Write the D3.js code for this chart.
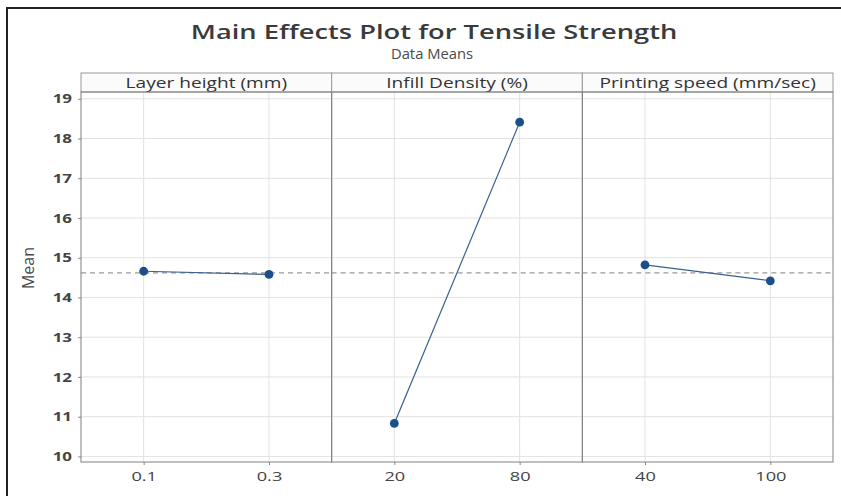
<!DOCTYPE html>
<html>
<head>
<meta charset="utf-8">
<script src="https://cdn.jsdelivr.net/npm/d3@7"></script>
<style>
  html, body { margin: 0; padding: 0; background: #fff; }
  svg { display: block; }
  text { font-family: "Open Sans", "Noto Sans", sans-serif; }
</style>
</head>
<body>
<svg id="chart" width="841" height="496"></svg>
<script>
// Factors and their levels
const factors = ["Layer height (mm)", "Infill Density (%)", "Printing speed (mm/sec)"];
const levels = [["0.1", "0.3"], ["20", "80"], ["40", "100"]];
// Mean tensile strength at each level
const means = [[14.66, 14.58], [10.83, 18.41], [14.82, 14.42]];
const grandMean = 14.62;
const yTicks = [10, 11, 12, 13, 14, 15, 16, 17, 18, 19];

(function () {
  const svg = d3.select("#chart");

  // widen text horizontally around its anchor point
  function widen(sel, sx) {
    sel.each(function () {
      const t = d3.select(this);
      const x = +t.attr("x") || 0, y = +t.attr("y") || 0;
      t.attr("x", 0).attr("y", 0)
        .attr("transform", `translate(${x},${y}) scale(${sx},1)`);
    });
  }

  // outer frame
  svg.append("rect")
    .attr("x", 7).attr("y", 8).attr("width", 860).attr("height", 520)
    .attr("fill", "none").attr("stroke", "#222").attr("stroke-width", 2);

  // titles
  const title = svg.append("text")
    .attr("x", 434).attr("y", 39)
    .attr("text-anchor", "middle")
    .attr("font-size", 19.5).attr("font-weight", 600).attr("fill", "#3a3a3a")
    .text("Main Effects Plot for Tensile Strength");
  widen(title, 1.4);
  const sub = svg.append("text")
    .attr("x", 432).attr("y", 59)
    .attr("text-anchor", "middle")
    .attr("font-size", 14.5).attr("fill", "#4a4a4a")
    .text("Data Means");
  widen(sub, 1.02);

  const plotLeft = 81, plotRight = 833, headTop = 73, plotTop = 92, plotBottom = 462;
  const panelW = (plotRight - plotLeft) / factors.length;

  const y = d3.scaleLinear().domain([9.86, 19.17]).range([plotBottom, plotTop]);

  // y axis label
  svg.append("text")
    .attr("transform", `translate(34,268) rotate(-90)`)
    .attr("text-anchor", "middle")
    .attr("font-size", 16).attr("fill", "#4a4a4a")
    .text("Mean");

  // y axis
  const yAxis = d3.axisLeft(y).tickValues(yTicks).tickSize(3).tickPadding(6);
  const gy = svg.append("g").attr("transform", `translate(${plotLeft},0)`).call(yAxis);
  gy.select(".domain").remove();
  gy.selectAll("line").attr("stroke", "#888");
  gy.selectAll("text").attr("font-size", 13).attr("font-weight", 700).attr("fill", "#444")
    .style("font-family", "'Open Sans', sans-serif");
  widen(gy.selectAll("text"), 1.3);

  factors.forEach((name, i) => {
    const x0 = plotLeft + i * panelW;
    const x = d3.scalePoint().domain(levels[i]).range([x0, x0 + panelW]).padding(0.5);
    const g = svg.append("g");

    // horizontal grid
    g.selectAll("line.hg").data(yTicks).join("line")
      .attr("x1", x0).attr("x2", x0 + panelW)
      .attr("y1", d => y(d)).attr("y2", d => y(d))
      .attr("stroke", "#e2e2e2").attr("stroke-width", 1);
    // vertical grid
    g.selectAll("line.vg").data(levels[i]).join("line")
      .attr("x1", d => x(d)).attr("x2", d => x(d))
      .attr("y1", plotTop).attr("y2", plotBottom)
      .attr("stroke", "#e2e2e2").attr("stroke-width", 1);

    // grand mean reference
    g.append("line")
      .attr("x1", x0).attr("x2", x0 + panelW)
      .attr("y1", y(grandMean)).attr("y2", y(grandMean))
      .attr("stroke", "#9a9a9a").attr("stroke-width", 1.2)
      .attr("stroke-dasharray", "5,4");

    // panel header
    g.append("rect")
      .attr("x", x0).attr("y", headTop).attr("width", panelW).attr("height", plotTop - headTop)
      .attr("fill", "#fbfbfb").attr("stroke", "#9a9a9a");
    const ht = g.append("text")
      .attr("x", x0 + panelW / 2).attr("y", headTop + 14.5)
      .attr("text-anchor", "middle").attr("font-size", 14.5).attr("fill", "#333")
      .text(name);
    widen(ht, 1.32);

    // panel frame
    g.append("rect")
      .attr("x", x0).attr("y", plotTop).attr("width", panelW).attr("height", plotBottom - plotTop)
      .attr("fill", "none").attr("stroke", "#808080");

    // x axis
    const xAxis = d3.axisBottom(x).tickSize(3).tickPadding(7);
    const gx = svg.append("g").attr("transform", `translate(0,${plotBottom})`).call(xAxis);
    gx.select(".domain").remove();
    gx.selectAll("line").attr("stroke", "#888");
    gx.selectAll("text").attr("font-size", 13).attr("fill", "#444")
      .style("font-family", "'Open Sans', sans-serif");
    widen(gx.selectAll("text"), 1.4);

    // effect line and points
    const pts = levels[i].map((l, j) => [x(l), y(means[i][j])]);
    g.append("path")
      .attr("d", d3.line()(pts))
      .attr("fill", "none").attr("stroke", "#3b5f8f").attr("stroke-width", 1.2);
    g.selectAll("circle").data(pts).join("circle")
      .attr("cx", d => d[0]).attr("cy", d => d[1]).attr("r", 4.4)
      .attr("fill", "#1b4f8a");
  });
})();
</script>
</body>
</html>
